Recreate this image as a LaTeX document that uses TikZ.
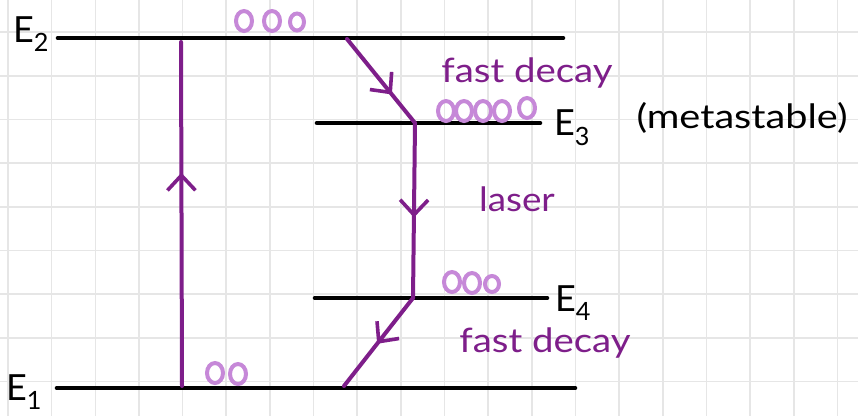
\documentclass[tikz,border=0pt]{standalone}
\usepackage{fontspec}
\setmainfont{Lato}
\usetikzlibrary{arrows.meta,decorations.markings,shapes.geometric}
\definecolor{gridc}{HTML}{E6E6E6}
\definecolor{deep}{HTML}{7E1E8A}
\definecolor{lilac}{HTML}{C688D8}
\tikzset{
  level/.style={line width=4.6pt, line cap=round, black},
  trans/.style={line width=4pt, deep, line cap=round, postaction={decorate},
    decoration={markings, mark=at position #1 with {\arrow[deep, line width=3.6pt]{Straight Barb[length=15pt, width=28pt]}}}},
  trans/.default=0.5,
  dot/.style={draw=lilac, line width=4pt, ellipse, minimum width=16pt, minimum height=20pt, inner sep=0pt},
  elab/.style={font=\fontsize{36}{36}\selectfont, text=black},
  mlab/.style={font=\fontsize{32}{32}\selectfont, text=black},
  plab/.style={font=\fontsize{32}{32}\selectfont, text=deep},
}
\begin{document}
\begin{tikzpicture}[x=1pt, y=-1pt]
\useasboundingbox (0,0) rectangle (858,416);
\fill[white] (0,0) rectangle (858,416);
% grid
\foreach \i in {0,...,19} \draw[gridc, line width=1.6pt] ({8+43.65*\i},0) -- ({8+43.65*\i},416);
\foreach \j in {0,...,9} \draw[gridc, line width=1.6pt] (0,{-11.4+43.65*\j}) -- (858,{-11.4+43.65*\j});

% level coordinates
\coordinate (e2a) at (58,38);   \coordinate (e2b) at (563,38);
\coordinate (e3a) at (317,123); \coordinate (e3b) at (540,123);
\coordinate (e4a) at (315,298); \coordinate (e4b) at (547,298);
\coordinate (e1a) at (57,388);  \coordinate (e1b) at (575,388);
\draw[level] (e2a) -- (e2b);
\draw[level] (e3a) -- (e3b);
\draw[level] (e4a) -- (e4b);
\draw[level] (e1a) -- (e1b);

% transition points
\coordinate (pumpLow) at (182,386);
\coordinate (pumpHigh) at (181,42);
\coordinate (d1s) at (347,39);
\coordinate (k3) at (415,123);
\coordinate (k4) at (413,298);
\coordinate (d2e) at (344,386);

\draw[trans=0.62] (pumpLow) -- (pumpHigh);
\draw[trans=0.66] (d1s) -- (k3);
\draw[trans=0.54] (k3) -- (k4);
\draw[trans=0.52] (k4) -- (d2e);

% populations
\node[dot] (a1) at (244,21) {};
\node[dot] (a2) at (272,21) {};
\node[dot, minimum width=14pt, minimum height=17pt] (a3) at (297,22) {};
\node[dot] (b1) at (446,111) {};
\node[dot] (b2) at (464,111) {};
\node[dot] (b3) at (483,111) {};
\node[dot] (b4) at (502,111) {};
\node[dot] (b5) at (527,108) {};
\node[dot] (c1) at (452,282) {};
\node[dot] (c2) at (472,283) {};
\node[dot, minimum width=14pt, minimum height=16pt] (c3) at (492,284) {};
\node[dot] (f1) at (215,373) {};
\node[dot] (f2) at (238,374) {};

% labels
\node[elab] (l2) at (31,34) {E\textsubscript{2}};
\node[elab] (l3) at (572,128) {E\textsubscript{3}};
\node[mlab] (lm) at (742,118) {\scalebox{1.24}[1.05]{(metastable)}};
\node[elab] (l4) at (573,303) {E\textsubscript{4}};
\node[elab] (l1) at (24,392) {E\textsubscript{1}};
\node[plab] (fd1) at (527,73) {\scalebox{1.2}[1.05]{fast decay}};
\node[plab] (las) at (517,199) {\scalebox{1.15}[1.05]{laser}};
\node[plab] (fd2) at (545,343) {\scalebox{1.2}[1.05]{fast decay}};
\end{tikzpicture}
\end{document}
